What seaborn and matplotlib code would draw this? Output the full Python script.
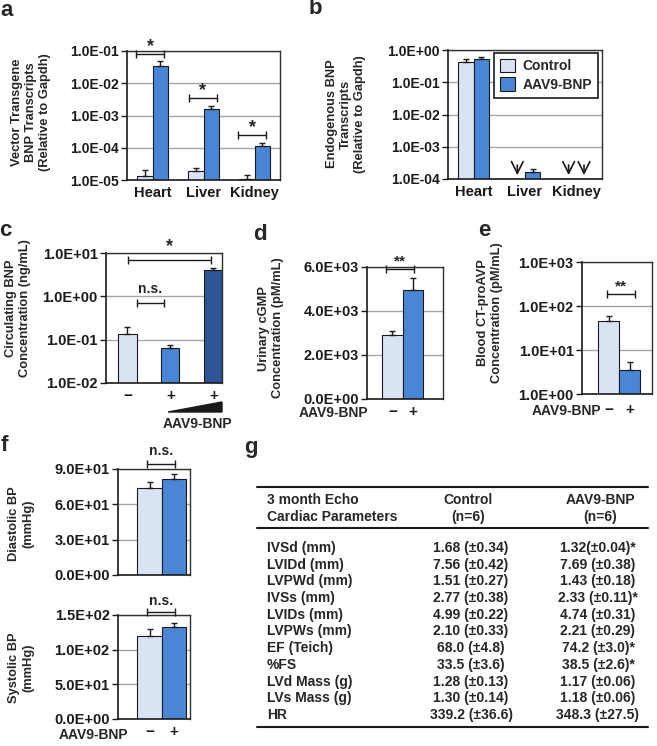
import numpy as np
import pandas as pd
import matplotlib
matplotlib.use("Agg")
import matplotlib.pyplot as plt
import seaborn as sns
from matplotlib.ticker import FixedLocator, FuncFormatter, NullLocator
from matplotlib.patches import Patch, Polygon
from matplotlib.lines import Line2D

sns.set_theme(style="white")
plt.rcParams['font.family'] = ['Liberation Sans', 'DejaVu Sans']
plt.rcParams['font.weight'] = 'bold'

W, H = 657, 746
LIGHT = "#dae3f3"
MID = "#4a86d6"
DARK = "#2f5597"
EDGE = "#1a1a1a"
GRID = "#a6a6a6"

# ---- data ----
tissues = ["Heart", "Liver", "Kidney"]
groups = ["Control", "AAV9-BNP"]

# a: vector transgene BNP transcripts
vec_ctrl = [1.3e-5, 1.9e-5, 1.05e-5]
vec_ctrl_err = [0.7e-5, 0.45e-5, 0.4e-5]
vec_aav = [3.5e-2, 1.6e-3, 1.15e-4]
vec_aav_err = [1.4e-2, 0.4e-3, 0.3e-4]

# b: endogenous BNP transcripts (nan = not detected, arrow)
endo_ctrl = [0.41, np.nan, np.nan]
endo_ctrl_err = [0.13, np.nan, np.nan]
endo_aav = [0.51, 1.65e-4, np.nan]
endo_aav_err = [0.11, 0.35e-4, np.nan]

# c: circulating BNP
circ_labels = ["\u2212", "+", "+"]
circ_groups = ["ctrl", "low", "high"]
circ_vals = [0.138, 0.064, 4.1]
circ_err = [0.062, 0.013, 0.4]

# d, e, f: control vs AAV9-BNP
treat = ["\u2212", "+"]
cgmp = [2890, 4960]
cgmp_err = [180, 540]
avp = [45, 3.6]
avp_err = [14, 1.8]
dbp = [73.8, 81.5]
dbp_err = [4.8, 4.3]
sbp = [119.3, 132.2]
sbp_err = [10.5, 5.8]

# g: echo table
echo_params = ["IVSd (mm)", "LVIDd (mm)", "LVPWd (mm)", "IVSs (mm)", "LVIDs (mm)",
               "LVPWs (mm)", "EF (Teich)", "%FS", "LVd Mass (g)", "LVs Mass (g)", "HR"]
echo_ctrl = ["1.68 (\u00b10.34)", "7.56 (\u00b10.42)", "1.51 (\u00b10.27)", "2.77 (\u00b10.38)",
             "4.99 (\u00b10.22)", "2.10 (\u00b10.33)", "68.0 (\u00b14.8)", "33.5 (\u00b13.6)",
             "1.28 (\u00b10.13)", "1.30 (\u00b10.14)", "339.2 (\u00b136.6)"]
echo_aav = ["1.32(\u00b10.04)*", "7.69 (\u00b10.38)", "1.43 (\u00b10.18)", "2.33 (\u00b10.11)*",
            "4.74 (\u00b10.31)", "2.21 (\u00b10.29)", "74.2 (\u00b13.0)*", "38.5 (\u00b12.6)*",
            "1.17 (\u00b10.06)", "1.18 (\u00b10.06)", "348.3 (\u00b127.5)"]

fig = plt.figure(figsize=(W / 100, H / 100), dpi=100)

LAB_FS = 9.3


def add_ax(x0, y0, x1, y1):
    return fig.add_axes([x0 / W, 1 - y1 / H, (x1 - x0) / W, (y1 - y0) / H])


def ftext(x, y, s, **kw):
    fig.text(x / W, 1 - y / H, s, **kw)


def style(ax, ticks, ylim, xlim, log=False, fs=10.5, xpad=4):
    if log:
        ax.set_yscale('log')
    ax.set_ylim(*ylim)
    ax.set_xlim(*xlim)
    ax.yaxis.set_major_locator(FixedLocator(ticks))
    ax.yaxis.set_minor_locator(NullLocator())
    ax.yaxis.set_major_formatter(FuncFormatter(lambda v, p: "%.1E" % v))
    ax.yaxis.grid(True, color=GRID, lw=1)
    ax.xaxis.grid(False)
    ax.set_axisbelow(True)
    ax.tick_params(axis='y', left=True, length=4, width=1, color='k',
                   labelsize=fs, pad=2, labelcolor='k')
    ax.tick_params(axis='x', bottom=False, length=0, labelsize=fs + 0.5,
                   pad=xpad, labelcolor='k')
    for t in ax.get_xticklabels() + ax.get_yticklabels():
        t.set_fontweight('bold')
    for s in ['left', 'bottom']:
        ax.spines[s].set_color('k')
        ax.spines[s].set_linewidth(1.2)
    for s in ['top', 'right']:
        ax.spines[s].set_color('#303030')
        ax.spines[s].set_linewidth(1.0)
    ax.set_xlabel("")
    ax.set_ylabel("")


def errs(ax, x, y, e):
    x = np.asarray(x, float)
    y = np.asarray(y, float)
    e = np.asarray(e, float)
    m = ~np.isnan(y)
    ax.errorbar(x[m], y[m], yerr=[np.zeros(m.sum()), e[m]], fmt='none',
                ecolor=EDGE, elinewidth=1, capsize=2.5, capthick=1, zorder=3)


def bracket(ax, x0, x1, y, label, ty, fs=10):
    ax.plot([x0, x1], [y, y], color='k', lw=1, marker='|', ms=6, mew=1,
            clip_on=False, zorder=4)
    ax.text((x0 + x1) / 2, ty, label, ha='center', va='center', fontsize=fs,
            fontweight='bold', clip_on=False)


def pair_df(cats, a, b):
    return pd.DataFrame({
        'cat': list(cats) * 2,
        'grp': [groups[0]] * len(cats) + [groups[1]] * len(cats),
        'val': list(a) + list(b),
    })


bar_kw = dict(saturation=1, edgecolor=EDGE, linewidth=0.8, errorbar=None)

# ---- a ----
ax = add_ax(127, 51, 280, 180)
sns.barplot(data=pair_df(tissues, vec_ctrl, vec_aav), x='cat', y='val', hue='grp',
            hue_order=groups, order=tissues, palette=[LIGHT, MID], width=0.6,
            legend=False, ax=ax, **bar_kw)
idx = np.arange(len(tissues))
errs(ax, idx - 0.15, vec_ctrl, vec_ctrl_err)
errs(ax, idx + 0.15, vec_aav, vec_aav_err)
style(ax, [1e-5, 1e-4, 1e-3, 1e-2, 1e-1], (1e-5, 1e-1), (-0.5, 2.5), log=True, fs=10)
bracket(ax, -0.32, 0.23, 8.1e-2, "*", 0.14, fs=13)
bracket(ax, 0.72, 1.26, 3.5e-3, "*", 6.0e-3, fs=13)
bracket(ax, 1.68, 2.23, 2.5e-4, "*", 4.3e-4, fs=13)
ftext(31, 112, "Vector Transgene\nBNP Transcripts\n(Relative to Gapdh)", rotation=90,
      ha='center', va='center', fontsize=LAB_FS, fontweight='bold', multialignment='center')
ftext(7, 11, "a", fontsize=16, fontweight='bold', ha='center', va='center')

# ---- b ----
ax = add_ax(448, 50, 602, 179)
sns.barplot(data=pair_df(tissues, endo_ctrl, endo_aav), x='cat', y='val', hue='grp',
            hue_order=groups, order=tissues, palette=[LIGHT, MID], width=0.6,
            legend=False, ax=ax, **bar_kw)
errs(ax, idx - 0.15, endo_ctrl, endo_ctrl_err)
errs(ax, idx + 0.15, endo_aav, endo_aav_err)
style(ax, [1e-4, 1e-3, 1e-2, 1e-1, 1e0], (1e-4, 1e0), (-0.5, 2.5), log=True, fs=10)
for off, series in [(-0.15, endo_ctrl), (0.15, endo_aav)]:
    for i, v in enumerate(series):
        if np.isnan(v):
            ax.annotate("", xy=(i + off, 1.08e-4), xytext=(i + off, 3.3e-4),
                        arrowprops=dict(arrowstyle='->,head_width=0.35,head_length=0.7',
                                        color='k', lw=1.2))
handles = [Patch(facecolor=LIGHT, edgecolor=EDGE, lw=0.8),
           Patch(facecolor=MID, edgecolor=EDGE, lw=0.8)]
leg = ax.legend(handles, groups, loc='upper right', bbox_to_anchor=(0.975, 0.98),
                borderaxespad=0, fancybox=False, framealpha=1, edgecolor='k',
                prop={'size': 10, 'weight': 'bold'}, handlelength=1.1, handleheight=1.1,
                labelspacing=0.3, handletextpad=0.5, borderpad=0.45)
leg.get_frame().set_linewidth(1.2)
ftext(346, 114, "Endogenous BNP\nTranscripts\n(Relative to Gapdh)", rotation=90,
      ha='center', va='center', fontsize=LAB_FS, fontweight='bold', multialignment='center')
ftext(315, 9, "b", fontsize=16, fontweight='bold', ha='center', va='center')

# ---- c ----
ax = add_ax(106, 253, 222, 383)
dfc = pd.DataFrame({'grp': circ_groups, 'val': circ_vals})
sns.barplot(data=dfc, x='grp', y='val', hue='grp', order=circ_groups,
            palette=[LIGHT, MID, DARK], width=0.42, legend=False,
            ax=ax, **bar_kw)
errs(ax, np.arange(3), circ_vals, circ_err)
style(ax, [1e-2, 1e-1, 1e0, 1e1], (1e-2, 1e1), (-0.5, 2.2), log=True)
ax.set_xticks(range(3))
ax.set_xticklabels(circ_labels, fontweight='bold', fontsize=11)
bracket(ax, 0.02, 1.95, 6.9, "*", 14.0, fs=13)
bracket(ax, 0.21, 0.86, 0.7, "n.s.", 1.45)
fig.add_artist(Polygon([[168 / W, 1 - 412 / H], [222 / W, 1 - 402 / H], [222 / W, 1 - 412 / H]],
                       closed=True, transform=fig.transFigure, facecolor='k', edgecolor='k'))
ftext(197, 424, "AAV9-BNP", ha='center', va='center', fontsize=10, fontweight='bold')
ftext(18, 308, "Circulating BNP\nConcentration (ng/mL)", rotation=90,
      ha='center', va='center', fontsize=LAB_FS, fontweight='bold', multialignment='center')
ftext(5, 230, "c", fontsize=16, fontweight='bold', ha='center', va='center')


def two_bar(ax, vals, err):
    df = pd.DataFrame({'t': treat, 'val': vals})
    sns.barplot(data=df, x='t', y='val', hue='t', order=treat, palette=[LIGHT, MID],
                width=1.0, legend=False, ax=ax, **bar_kw)
    errs(ax, [0, 1], vals, err)


# ---- d ----
ax = add_ax(367, 267, 443, 399)
two_bar(ax, cgmp, cgmp_err)
style(ax, [0, 2000, 4000, 6000], (0, 6000), (-1.225, 2.445))
bracket(ax, -0.29, 1.05, 5900, "**", 6250, fs=11)
ftext(368, 413, "AAV9-BNP", ha='right', va='center', fontsize=10, fontweight='bold')
ftext(271, 328, "Urinary cGMP\nConcentration (pM/mL)", rotation=90,
      ha='center', va='center', fontsize=LAB_FS, fontweight='bold', multialignment='center')
ftext(260, 234, "d", fontsize=16, fontweight='bold', ha='center', va='center')

# ---- e ----
ax = add_ax(582, 262, 652, 394)
two_bar(ax, avp, avp_err)
style(ax, [1, 10, 100, 1000], (1, 1000), (-1.267, 2.067), log=True, xpad=6.5)
bracket(ax, -0.07, 1.26, 185, "**", 280, fs=11)
ftext(601, 411, "AAV9-BNP", ha='right', va='center', fontsize=10, fontweight='bold')
ftext(490, 313, "Blood CT-proAVP\nConcentration (pM/mL)", rotation=90,
      ha='center', va='center', fontsize=LAB_FS, fontweight='bold', multialignment='center')
ftext(484, 230, "e", fontsize=16, fontweight='bold', ha='center', va='center')

# ---- f ----
ax = add_ax(118, 469, 190, 575)
two_bar(ax, dbp, dbp_err)
style(ax, [0, 30, 60, 90], (0, 90), (-1.296, 1.644))
ax.set_xticklabels([])
bracket(ax, -0.1, 1.04, 94.6, "n.s.", 105)
ftext(21, 524, "Diastolic BP\n(mmHg)", rotation=90,
      ha='center', va='center', fontsize=LAB_FS, fontweight='bold', multialignment='center')
ftext(4, 446, "f", fontsize=16, fontweight='bold', ha='center', va='center')

ax = add_ax(118, 615, 190, 719)
two_bar(ax, sbp, sbp_err)
style(ax, [0, 50, 100, 150], (0, 150), (-1.296, 1.644))
bracket(ax, -0.1, 1.04, 153.8, "n.s.", 170)
ftext(128, 735, "AAV9-BNP", ha='right', va='center', fontsize=10, fontweight='bold')
ftext(21, 668, "Systolic BP\n(mmHg)", rotation=90,
      ha='center', va='center', fontsize=LAB_FS, fontweight='bold', multialignment='center')

# ---- g: table ----
ftext(251, 448, "g", fontsize=16, fontweight='bold', ha='center', va='center')
for yy, lw in [(487, 1.5), (528, 1.5), (727, 1.5)]:
    fig.add_artist(Line2D([257 / W, 648 / W], [1 - yy / H, 1 - yy / H], color='k', lw=lw,
                          transform=fig.transFigure))
TFS = 10
ftext(267, 500, "3 month Echo", ha='left', va='center', fontsize=TFS, fontweight='bold')
ftext(267, 517, "Cardiac Parameters", ha='left', va='center', fontsize=TFS, fontweight='bold')
ftext(468, 500, "Control", ha='center', va='center', fontsize=TFS, fontweight='bold')
ftext(468, 517, "(n=6)", ha='center', va='center', fontsize=TFS, fontweight='bold')
ftext(600, 500, "AAV9-BNP", ha='center', va='center', fontsize=TFS, fontweight='bold')
ftext(600, 517, "(n=6)", ha='center', va='center', fontsize=TFS, fontweight='bold')
for i, (p, c, a) in enumerate(zip(echo_params, echo_ctrl, echo_aav)):
    yy = 548 + i * 16.7
    ftext(267, yy, p, ha='left', va='center', fontsize=TFS, fontweight='bold')
    ftext(471, yy, c, ha='center', va='center', fontsize=TFS, fontweight='bold')
    ftext(598, yy, a, ha='center', va='center', fontsize=TFS, fontweight='bold')

fig.savefig("out.png", dpi=100)
